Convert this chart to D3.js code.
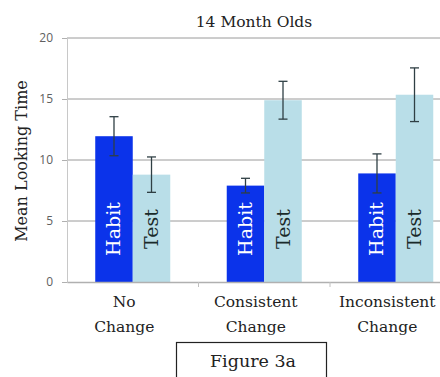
<!DOCTYPE html>
<html>
<head>
<meta charset="utf-8">
<script src="https://cdn.jsdelivr.net/npm/d3@7"></script>
<style>
  html, body { margin: 0; padding: 0; background: #fff; overflow: hidden; }
  svg { display: block; }
</style>
</head>
<body>
<svg id="chart" width="440" height="377"></svg>
<script>
// Looking-time results for 14-month-old infants
const categories = [["No", "Change"], ["Consistent", "Change"], ["Inconsistent", "Change"]];
const series = ["Habit", "Test"];
const habitMeans = [11.95, 7.9, 8.9];
const habitErrors = [1.6, 0.6, 1.6];
const testMeans = [8.8, 14.9, 15.35];
const testErrors = [1.45, 1.55, 2.2];
const yTicks = [0, 5, 10, 15, 20];

const colors = { Habit: "#0b33ea", Test: "#b9dee8" };
const serif = "'DejaVu Serif', 'Liberation Serif', serif";

const svg = d3.select("#chart");
const margin = { left: 67, top: 38, bottom: 282 };
const step = 131.5;

const catKeys = categories.map(c => c.join(" "));
const x0 = d3.scaleBand()
  .domain(catKeys)
  .range([margin.left, margin.left + step * catKeys.length])
  .paddingInner(0).paddingOuter(0);
const x1 = d3.scaleBand()
  .domain(series)
  .range([0, x0.bandwidth()])
  .paddingInner(0).paddingOuter(0.753);
const y = d3.scaleLinear().domain([0, 20]).range([margin.bottom, margin.top]);

// horizontal grid
svg.append("g")
  .selectAll("line")
  .data(yTicks.filter(t => t > 0))
  .join("line")
  .attr("x1", margin.left).attr("x2", 440)
  .attr("y1", d => y(d)).attr("y2", d => y(d))
  .attr("stroke", "#9a9a9a").attr("stroke-width", 1);

// y axis
const yAxis = svg.append("g")
  .attr("transform", `translate(${margin.left},0)`)
  .call(d3.axisLeft(y).tickValues(yTicks).tickSize(5).tickPadding(9));
yAxis.select(".domain").attr("stroke", "#c8c8c8");
yAxis.selectAll(".tick line").attr("stroke", "#b0b0b0");
yAxis.selectAll("text")
  .attr("fill", "#606060").attr("font-size", 12)
  .attr("font-family", "'Open Sans', 'Liberation Sans', sans-serif");

// bars
const rows = catKeys.map((k, i) => ({
  key: k,
  values: [
    { s: "Habit", v: habitMeans[i], e: habitErrors[i] },
    { s: "Test", v: testMeans[i], e: testErrors[i] }
  ]
}));

const groups = svg.append("g").selectAll("g")
  .data(rows).join("g")
  .attr("transform", d => `translate(${x0(d.key)},0)`);

groups.selectAll("rect")
  .data(d => d.values).join("rect")
  .attr("x", d => x1(d.s))
  .attr("width", x1.bandwidth())
  .attr("y", d => y(d.v))
  .attr("height", d => y(0) - y(d.v))
  .attr("fill", d => colors[d.s]);

// bar names written vertically inside each bar
groups.selectAll("text.bar-label")
  .data(d => d.values).join("text")
  .attr("class", "bar-label")
  .attr("transform", d => `translate(${x1(d.s) + x1.bandwidth() / 2 + 6.5},229) rotate(-90)`)
  .attr("text-anchor", "middle")
  .attr("font-family", serif).attr("font-size", 19)
  .attr("fill", d => d.s === "Habit" ? "#fff" : "#1a2a2a")
  .text(d => d.s);

// error bars
const capW = 4.5;
const eb = groups.selectAll("g.err")
  .data(d => d.values).join("g")
  .attr("class", "err")
  .attr("stroke", "#2f3f44").attr("stroke-width", 1.3);
eb.append("line")
  .attr("x1", d => x1(d.s) + x1.bandwidth() / 2)
  .attr("x2", d => x1(d.s) + x1.bandwidth() / 2)
  .attr("y1", d => y(d.v + d.e)).attr("y2", d => y(d.v - d.e));
eb.append("line")
  .attr("x1", d => x1(d.s) + x1.bandwidth() / 2 - capW)
  .attr("x2", d => x1(d.s) + x1.bandwidth() / 2 + capW)
  .attr("y1", d => y(d.v + d.e)).attr("y2", d => y(d.v + d.e));
eb.append("line")
  .attr("x1", d => x1(d.s) + x1.bandwidth() / 2 - capW)
  .attr("x2", d => x1(d.s) + x1.bandwidth() / 2 + capW)
  .attr("y1", d => y(d.v - d.e)).attr("y2", d => y(d.v - d.e));

// x axis baseline and category labels
const xAxis = svg.append("g")
  .attr("transform", `translate(0,${y(0)})`)
  .call(d3.axisBottom(x0).tickSize(0).tickFormat(""));
xAxis.select(".domain").attr("stroke", "#b0b0b0").attr("stroke-width", 1.5);

svg.append("g").selectAll("line")
  .data(catKeys.slice(1)).join("line")
  .attr("x1", d => x0(d)).attr("x2", d => x0(d))
  .attr("y1", y(0)).attr("y2", y(0) + 5)
  .attr("stroke", "#c0c0c0");

// labels sit a little left of each group's centre
const labelShift = -8.5;
const catLabels = svg.append("g").selectAll("text")
  .data(categories).join("text")
  .attr("x", (d, i) => x0(catKeys[i]) + x0.bandwidth() / 2 + labelShift)
  .attr("y", 307)
  .attr("text-anchor", "middle")
  .attr("font-family", serif).attr("font-size", 15.5)
  .attr("fill", "#222");
catLabels.selectAll("tspan")
  .data(d => d).join("tspan")
  .attr("x", function () { return d3.select(this.parentNode).attr("x"); })
  .attr("dy", (d, i) => i === 0 ? 0 : 25)
  .text(d => d);

// title
svg.append("text")
  .attr("x", 254).attr("y", 27)
  .attr("text-anchor", "middle")
  .attr("font-family", serif).attr("font-size", 15.5)
  .attr("fill", "#222")
  .text("14 Month Olds");

// axis title
svg.append("text")
  .attr("transform", "translate(27,161) rotate(-90)")
  .attr("text-anchor", "middle")
  .attr("font-family", serif).attr("font-size", 16)
  .attr("fill", "#222")
  .text("Mean Looking Time");

// figure caption box
svg.append("rect")
  .attr("x", 176.5).attr("y", 342.5)
  .attr("width", 150).attr("height", 40)
  .attr("fill", "#fff").attr("stroke", "#222").attr("stroke-width", 1.2);
svg.append("text")
  .attr("x", 253).attr("y", 367)
  .attr("text-anchor", "middle")
  .attr("font-family", serif).attr("font-size", 17.5)
  .attr("fill", "#222")
  .text("Figure 3a");
</script>
</body>
</html>
